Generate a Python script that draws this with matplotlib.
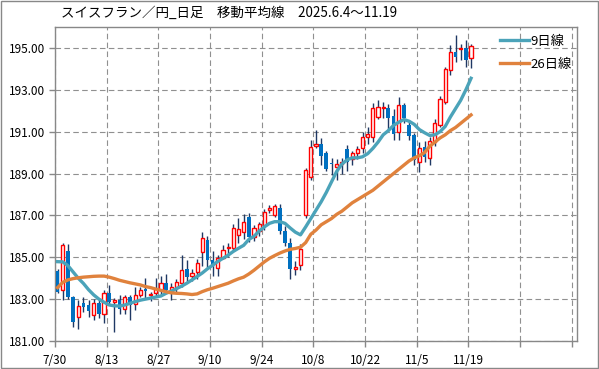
import numpy as np
import matplotlib.pyplot as plt
from matplotlib.patches import Rectangle

plt.rcParams['font.family'] = ['Noto Sans CJK JP', 'DejaVu Sans']

# Daily candles 7/30 - 11/19 (CHF/JPY)
opens = [184.35, 183.44, 185.30, 183.10, 182.16, 182.80, 182.72, 182.24, 182.80, 182.29,
         183.28, 182.88, 182.96, 182.53, 183.10, 182.75, 183.20, 183.50, 183.20, 183.30,
         183.44, 183.76, 183.36, 183.60, 183.76, 184.43, 184.12, 184.28, 185.24, 185.83,
         184.87, 184.47, 184.95, 185.43, 185.43, 186.07, 186.20, 186.90, 185.96, 186.26,
         186.54, 187.25, 187.00, 187.34, 186.27, 185.67, 184.45, 184.62, 187.02, 188.85,
         190.30, 190.41, 189.97, 189.48, 189.30, 189.45, 190.16, 189.70, 189.97, 190.20,
         190.76, 190.76, 191.69, 192.12, 192.12, 191.75, 191.00, 192.28, 191.32, 190.84,
         189.57, 190.26, 189.73, 190.52, 191.32, 192.44, 193.95, 194.82, 194.95, 194.98,
         194.50]
highs = [184.45, 185.67, 185.62, 183.15, 182.96, 183.10, 182.96, 183.00, 182.96, 183.45,
         183.68, 183.05, 183.20, 183.20, 183.20, 183.60, 183.60, 184.00, 183.35, 184.00,
         184.10, 184.20, 183.75, 183.95, 185.10, 184.87, 184.45, 184.90, 186.20, 186.00,
         185.30, 185.10, 185.60, 185.70, 186.60, 186.86, 187.05, 187.10, 186.55, 186.70,
         187.30, 187.50, 187.53, 187.55, 186.50, 185.90, 184.80, 185.65, 189.25, 190.60,
         191.10, 190.70, 190.10, 189.75, 189.70, 189.75, 190.35, 190.10, 190.30, 191.00,
         191.20, 192.35, 192.52, 192.40, 192.30, 192.10, 192.67, 192.35, 191.55, 190.95,
         190.50, 190.55, 190.75, 191.60, 192.70, 194.10, 195.14, 195.62, 195.20, 195.38,
         195.20]
lows = [183.30, 182.96, 183.00, 181.65, 181.55, 182.40, 182.16, 182.00, 182.10, 181.85,
        182.70, 181.45, 182.30, 182.30, 182.00, 182.50, 183.10, 183.00, 182.90, 183.10,
        183.20, 183.30, 182.95, 183.30, 183.60, 183.80, 183.85, 183.95, 184.60, 184.55,
        184.10, 184.10, 184.90, 185.00, 185.30, 185.70, 185.85, 185.75, 185.80, 186.00,
        186.30, 187.10, 186.90, 186.10, 185.55, 183.95, 184.15, 184.40, 186.86, 188.70,
        190.20, 189.40, 189.10, 188.95, 188.70, 189.00, 189.10, 189.40, 189.70, 190.00,
        190.40, 190.50, 191.60, 191.65, 191.10, 190.60, 190.60, 191.40, 190.60, 189.40,
        189.09, 189.55, 189.40, 190.30, 191.20, 192.30, 193.70, 194.35, 194.40, 194.10,
        194.03]
closes = [183.34, 185.59, 183.10, 181.92, 182.67, 182.64, 182.43, 182.80, 182.29, 183.28,
          182.88, 182.95, 182.53, 183.10, 182.70, 183.20, 183.45, 183.40, 183.25, 183.50,
          183.76, 183.44, 183.60, 183.84, 184.40, 184.07, 184.27, 184.71, 185.94, 184.87,
          184.52, 184.95, 185.35, 185.51, 186.39, 186.34, 186.67, 185.96, 186.41, 186.58,
          187.18, 187.35, 187.45, 186.27, 185.67, 184.43, 184.55, 185.39, 189.17, 190.26,
          190.40, 189.84, 189.20, 189.44, 189.44, 189.55, 189.57, 190.00, 190.16, 190.73,
          190.89, 192.12, 192.17, 192.17, 191.64, 190.89, 192.28, 191.64, 190.80, 189.65,
          190.21, 189.80, 190.57, 191.43, 192.55, 193.98, 194.82, 194.58, 195.00, 194.43,
          195.10]

# Moving averages as drawn on the chart
ma9 = [184.79, 184.78, 184.60, 184.30, 184.00, 183.75, 183.45, 183.20, 183.00, 182.85,
       182.72, 182.68, 182.67, 182.72, 182.80, 182.88, 182.95, 183.00, 183.05, 183.10,
       183.15, 183.28, 183.38, 183.50, 183.62, 183.76, 183.92, 184.08, 184.25, 184.45,
       184.62, 184.80, 184.95, 185.10, 185.28, 185.43, 185.57, 185.85, 186.00, 186.25,
       186.45, 186.62, 186.70, 186.70, 186.62, 186.40, 186.20, 186.07, 186.45, 186.85,
       187.25, 187.65, 188.10, 188.60, 189.10, 189.45, 189.65, 189.75, 189.75, 189.80,
       189.95, 190.20, 190.50, 190.85, 191.05, 191.30, 191.45, 191.58, 191.50, 191.35,
       191.10, 190.95, 190.82, 190.85, 191.00, 191.25, 191.70, 192.10, 192.50, 193.00,
       193.55]
ma26 = [183.55, 183.80, 183.92, 183.98, 184.02, 184.05, 184.07, 184.09, 184.10, 184.10,
        184.05, 183.98, 183.90, 183.84, 183.78, 183.73, 183.68, 183.60, 183.55, 183.48,
        183.42, 183.35, 183.30, 183.28, 183.27, 183.25, 183.22, 183.25, 183.36, 183.45,
        183.52, 183.60, 183.68, 183.76, 183.87, 183.97, 184.05, 184.20, 184.38, 184.58,
        184.78, 184.95, 185.08, 185.20, 185.30, 185.38, 185.42, 185.48, 185.70, 186.10,
        186.30, 186.55, 186.70, 186.85, 187.05, 187.20, 187.40, 187.60, 187.75, 187.90,
        188.05, 188.20, 188.40, 188.60, 188.80, 189.00, 189.20, 189.40, 189.60, 189.75,
        189.85, 190.00, 190.30, 190.50, 190.70, 190.85, 191.05, 191.20, 191.40, 191.60,
        191.80]

tick_labels = ['7/30', '8/13', '8/27', '9/10', '9/24', '10/8', '10/22', '11/5', '11/19', '', '']

o = np.array(opens)
c = np.array(closes)
x = np.arange(len(o))
up = c >= o

fig = plt.figure(figsize=(5.99, 3.69), dpi=100)
ax = fig.add_axes([55 / 599, 1 - 341 / 369, 522 / 599, 314 / 369])

# wicks
ax.vlines(x, lows, highs, color='#1F3864', lw=1, zorder=3)

# bodies
bottom = np.minimum(o, c)
height = np.maximum(np.abs(c - o), 0.05)
ax.bar(x[up], height[up], bottom=bottom[up], width=0.62, facecolor='white',
       edgecolor='#FF0000', linewidth=1, zorder=4)
ax.bar(x[~up], height[~up], bottom=bottom[~up], width=0.72, color='#0070C0',
       linewidth=0, zorder=4)

# moving averages
ax.plot(x, ma9, color='#4BA3B9', lw=2.4, zorder=5, label='9日線')
ax.plot(x, ma26, color='#E0823D', lw=2.4, zorder=5, label='26日線')

ax.set_xlim(-0.5, 100.5)
ax.set_ylim(181, 196)
ax.set_yticks(np.arange(181, 196, 2))
ax.yaxis.set_major_formatter(plt.FuncFormatter(lambda v, p: f'{v:.2f}'))
ax.set_xticks(np.arange(-0.5, 100, 10))
ax.set_xticklabels(tick_labels)
ax.tick_params(labelsize=8.5, length=4, color='#888888', width=1, pad=3)
ax.tick_params(axis='x', pad=5)

ax.grid(True, color='#909090', lw=0.8, linestyle=(0, (5, 3)))
ax.set_axisbelow(True)
for s in ax.spines.values():
    s.set_color('#888888')
    s.set_linewidth(1)

ax.legend(loc='upper left', bbox_to_anchor=(0.852, 0.975), frameon=False,
          fontsize=9.5, handlelength=2.2, handletextpad=0.1, labelspacing=0.75,
          borderpad=0, borderaxespad=0)

fig.text(61 / 599, 1 - 13 / 369, 'スイスフラン／円_日足　移動平均線　2025.6.4～11.19',
         fontsize=9.7, va='center', ha='left')

# outer border
fig.patches.append(Rectangle((0.001, 0.002), 0.997, 0.995, transform=fig.transFigure,
                             fill=False, edgecolor='#888888', lw=1))

plt.savefig('out.png', dpi=100)
